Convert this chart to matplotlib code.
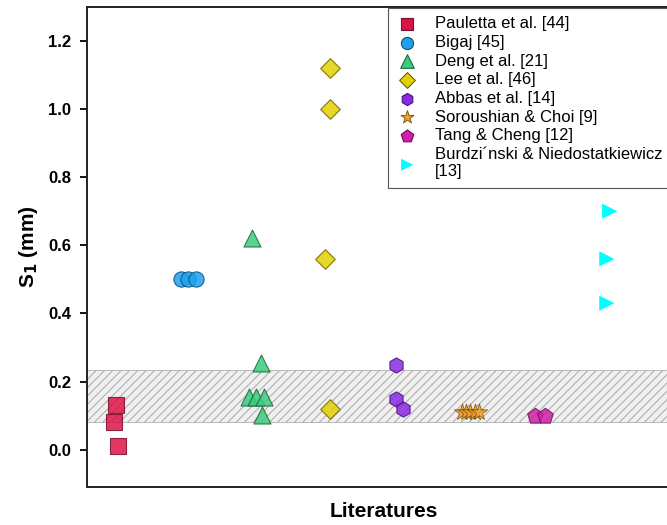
import matplotlib.pyplot as plt
import numpy as np

plt.rcParams['font.family'] = ['Liberation Sans', 'DejaVu Sans']
plt.rcParams['hatch.linewidth'] = 0.8

# data: (x positions with small jitter around category index, S1 values in mm)
pauletta_x = [1.01, 0.985, 1.04]
pauletta_y = [0.13, 0.08, 0.01]
bigaj_x = [1.93, 2.04, 2.15]
bigaj_y = [0.50, 0.50, 0.50]
deng_x = [2.94, 3.06, 2.90, 2.99, 3.11, 3.08]
deng_y = [0.62, 0.255, 0.155, 0.155, 0.155, 0.103]
lee_x = [4.04, 4.04, 3.97, 4.04]
lee_y = [1.12, 1.00, 0.56, 0.12]
abbas_x = [4.98, 4.98, 5.07]
abbas_y = [0.25, 0.15, 0.12]
sor_x = [5.91, 5.97, 6.03, 6.09, 6.15]
sor_y = [0.11, 0.11, 0.11, 0.11, 0.11]
tang_x = [6.94, 7.09]
tang_y = [0.10, 0.10]
burd_x = [8.0, 7.96, 7.96]
burd_y = [0.70, 0.56, 0.43]

band = (0.08, 0.235)

fig = plt.figure(figsize=(6.67, 5.25), dpi=100)
ax = fig.add_axes([0.130, 0.072, 0.89, 0.915])

ax.axhspan(band[0], band[1], facecolor='#f0f0f0', edgecolor='#b0b0b0',
           hatch='////', lw=0.6, zorder=0)

kw = dict(s=120, alpha=0.85, linewidths=0.8, zorder=3)
ax.scatter(pauletta_x, pauletta_y, marker='s', color='#dc1445', edgecolors='#7a1030',
           label='Pauletta et al. [44]', **kw)
ax.scatter(bigaj_x, bigaj_y, marker='o', color='#1ea0ee', edgecolors='#0b4f80',
           label='Bigaj [45]', **kw)
ax.scatter(deng_x, deng_y, marker='^', color='#3ccb7f', edgecolors='#1a6a3c',
           label='Deng et al. [21]', s=150, alpha=0.85, linewidths=0.8, zorder=3)
ax.scatter(lee_x, lee_y, marker='D', color='#e3d000', edgecolors='#6e6500',
           label='Lee et al. [46]', s=100, alpha=0.85, linewidths=0.8, zorder=3)
ax.scatter(abbas_x, abbas_y, marker='h', color='#8a2be2', edgecolors='#4a1080',
           label='Abbas et al. [14]', **kw)
ax.scatter(sor_x, sor_y, marker='*', color='#f0a030', edgecolors='#7a4a00',
           label='Soroushian & Choi [9]', s=150, alpha=0.85, linewidths=0.6, zorder=3)
ax.scatter(tang_x, tang_y, marker='p', color='#d020a8', edgecolors='#701060',
           label='Tang & Cheng [12]', s=140, alpha=0.85, linewidths=0.8, zorder=3)
ax.scatter(burd_x, burd_y, marker='>', color='#00ffff', edgecolors='none',
           label='Burdzi\u00b4nski & Niedostatkiewicz\n[13]', s=120, zorder=3)

ax.set_xlim(0.6, 9.0)
ax.set_ylim(-0.11, 1.30)
ax.set_yticks(np.arange(0, 1.21, 0.2))
ax.set_yticklabels([f'{v:.1f}' for v in np.arange(0, 1.21, 0.2)],
                   fontsize=12, fontweight='bold')
ax.set_xticks([])
ax.tick_params(axis='y', direction='out', length=5, width=1.3, pad=6)
for s in ax.spines.values():
    s.set_linewidth(1.4)
    s.set_color('#222222')

ax.set_ylabel('S$_\\mathbf{1}$ (mm)', fontsize=15, fontweight='bold', labelpad=6)
ax.set_xlabel('Literatures', fontsize=15, fontweight='bold', labelpad=11)

leg = ax.legend(loc='upper left', bbox_to_anchor=(388 / 667, 1 - 8 / 525),
                bbox_transform=fig.transFigure, fontsize=12, frameon=True,
                fancybox=False, edgecolor='#555555', borderaxespad=0,
                handletextpad=1.0, labelspacing=0.22, borderpad=0.5,
                handlelength=1.3, framealpha=1, markerscale=0.8)
leg.get_frame().set_linewidth(0.8)
for h in leg.legend_handles:
    h.set_alpha(1)

fig.savefig('out.png', dpi=100)
